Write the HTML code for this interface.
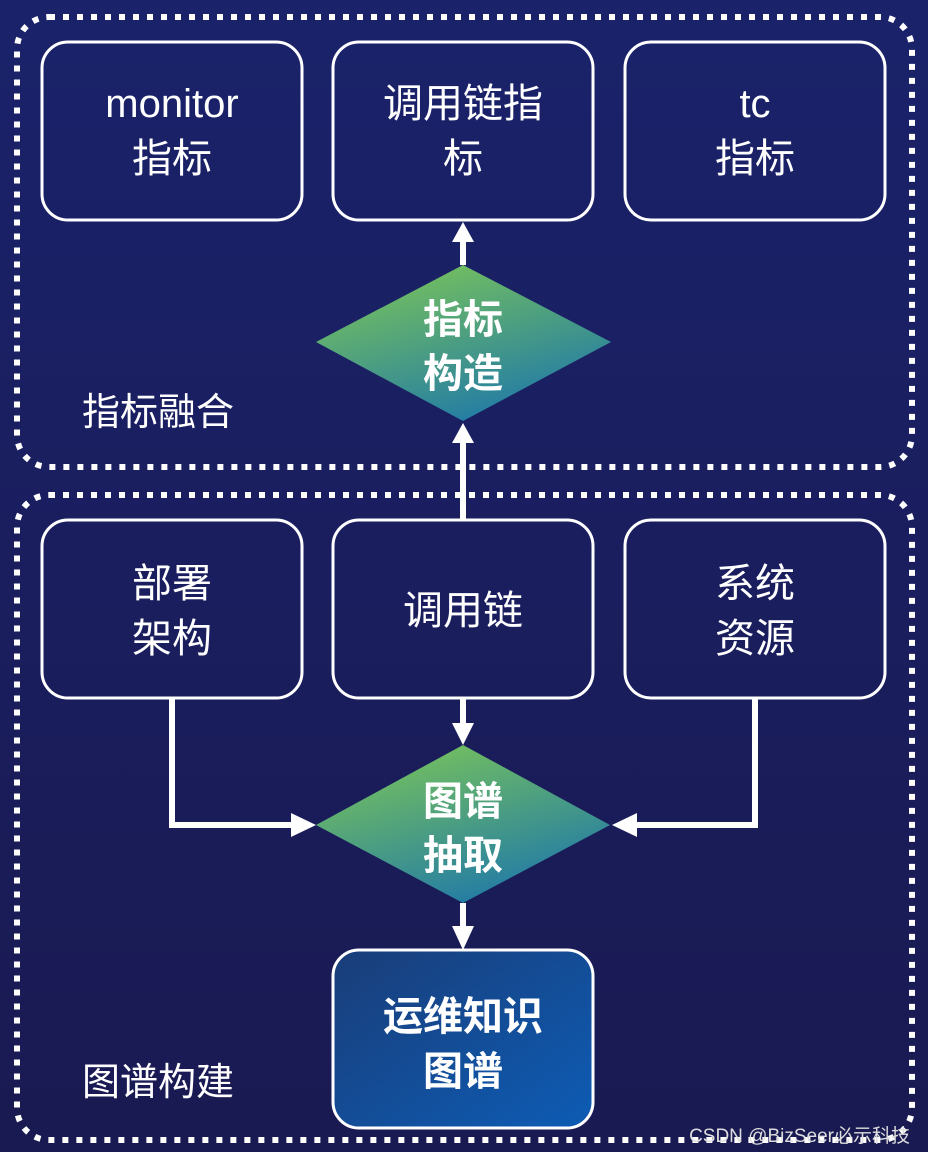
<!DOCTYPE html>
<html><head><meta charset="utf-8"><style>
html,body{margin:0;padding:0;width:928px;height:1152px;overflow:hidden;background:#1a2064;}
svg{display:block}
text{font-family:"Liberation Sans","Noto Sans CJK SC",sans-serif;fill:#fff;text-anchor:middle}
</style></head><body>
<svg width="928" height="1152" viewBox="0 0 928 1152">
<defs>
<linearGradient id="bg" x1="0" y1="0" x2="0" y2="1"><stop offset="0" stop-color="#1a226a"/><stop offset="1" stop-color="#1a1a52"/></linearGradient>
<linearGradient id="dg" x1="0.3" y1="0.1" x2="0.75" y2="0.95"><stop offset="0" stop-color="#6fbb63"/><stop offset="1" stop-color="#1f79a8"/></linearGradient>
<linearGradient id="bb" x1="0" y1="0" x2="1" y2="1"><stop offset="0" stop-color="#1a3d78"/><stop offset="1" stop-color="#0d5cb5"/></linearGradient>
</defs>
<rect width="928" height="1152" fill="url(#bg)"/>
<g fill="none" stroke="#fff" stroke-width="6" stroke-dasharray="6 8">
<rect x="17" y="17" width="895" height="450" rx="32"/>
<rect x="17" y="495" width="895" height="645" rx="32"/>
</g>
<g fill="none" stroke="#fff" stroke-width="3">
<rect x="42" y="42" width="260" height="178" rx="26"/>
<rect x="333" y="42" width="260" height="178" rx="26"/>
<rect x="625" y="42" width="260" height="178" rx="26"/>
<rect x="42" y="520" width="260" height="178" rx="26"/>
<rect x="333" y="520" width="260" height="178" rx="26"/>
<rect x="625" y="520" width="260" height="178" rx="26"/>
</g>
<rect x="333" y="950" width="260" height="178" rx="26" fill="url(#bb)" stroke="#fff" stroke-width="3"/>
<polygon points="463,265 611,342 463,421 316,342" fill="url(#dg)"/>
<polygon points="463,745 610,825 463,903 316,825" fill="url(#dg)"/>
<g stroke="#fff" stroke-width="6" fill="none">
<line x1="463" y1="265" x2="463" y2="240"/>
<line x1="463" y1="520" x2="463" y2="440"/>
<line x1="463" y1="698" x2="463" y2="725"/>
<polyline points="172,698 172,825 293,825"/>
<polyline points="755,698 755,825 635,825"/>
<line x1="463" y1="903" x2="463" y2="928"/>
</g>
<g fill="#fff">
<polygon points="463,222 452,242 474,242"/>
<polygon points="463,423 452,443 474,443"/>
<polygon points="463,745 452,723 474,723"/>
<polygon points="316,825 291,813 291,837"/>
<polygon points="612,825 637,813 637,837"/>
<polygon points="463,950 452,926 474,926"/>
</g>
<g font-size="40">
<text x="172" y="117">monitor</text><text x="172" y="172">指标</text>
<text x="463" y="117">调用链指</text><text x="463" y="172">标</text>
<text x="755" y="117">tc</text><text x="755" y="172">指标</text>
<text x="172" y="597">部署</text><text x="172" y="652">架构</text>
<text x="463" y="624">调用链</text>
<text x="755" y="597">系统</text><text x="755" y="652">资源</text>
</g>
<g font-size="40" font-weight="bold">
<text x="463" y="333">指标</text><text x="463" y="387">构造</text>
<text x="463" y="815">图谱</text><text x="463" y="869">抽取</text>
<text x="463" y="1030">运维知识</text><text x="463" y="1085">图谱</text>
</g>
<g font-size="38" style="text-anchor:start">
<text x="82" y="425" style="text-anchor:start">指标融合</text>
<text x="82" y="1095" style="text-anchor:start">图谱构建</text>
</g>
<text x="910" y="1142" font-size="19" style="text-anchor:end;fill:#ddd">CSDN @BizSeer必示科技</text>
</svg>
</body></html>
